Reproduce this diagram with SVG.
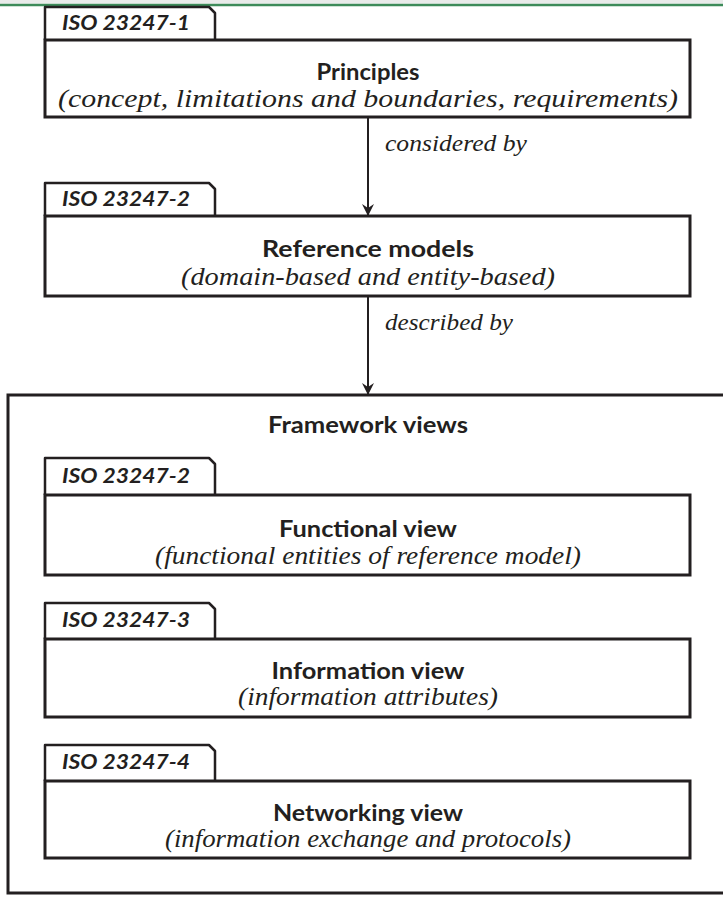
<svg xmlns="http://www.w3.org/2000/svg" width="723" height="899" viewBox="0 0 723 899">
<style>
.box{fill:#fff;stroke:#231f20;stroke-width:3}
.tab{fill:#fff;stroke:#231f20;stroke-width:2.5;stroke-linejoin:round}
.title{font-family:Lato,"Open Sans",sans-serif;font-weight:bold;font-size:23.5px;fill:#231f20;text-anchor:middle}
.sub{font-family:"Liberation Serif",serif;font-style:italic;font-size:25px;fill:#231f20;text-anchor:middle}
.tabt{font-family:Lato,"Open Sans",sans-serif;font-weight:bold;font-style:italic;font-size:21px;fill:#231f20}
.lbl{font-family:"Liberation Serif",serif;font-style:italic;font-size:24px;fill:#231f20}
.conn{stroke:#231f20;stroke-width:2;fill:none}
</style>
<defs>
<marker id="arr" viewBox="0 0 12 12" refX="11" refY="6" markerWidth="12" markerHeight="12" markerUnits="userSpaceOnUse" orient="auto">
<path d="M0,0 L12,6 L0,12 L4,6 z" fill="#231f20"/>
</marker>
</defs>
<rect x="0" y="0" width="723" height="3.5" fill="#e9ebea"/>
<line x1="0" y1="5" x2="723" y2="5" stroke="#3d8b5a" stroke-width="2.5"/>

<g id="framework">
<rect class="box" x="8" y="395" width="730" height="498"/>
<text class="title" x="368" y="433" textLength="200" lengthAdjust="spacingAndGlyphs">Framework views</text>
</g>

<g id="principles">
<path class="tab" d="M45,40 V7 H209 L215,13 V40"/>
<text class="tabt" x="62" y="30" textLength="128" lengthAdjust="spacingAndGlyphs">ISO 23247-1</text>
<rect class="box" x="45" y="40" width="645" height="77"/>
<text class="title" x="368" y="80" textLength="103" lengthAdjust="spacingAndGlyphs">Principles</text>
<text class="sub" x="368" y="107" textLength="620" lengthAdjust="spacingAndGlyphs">(concept, limitations and boundaries, requirements)</text>
</g>

<g id="reference">
<path class="tab" d="M45,216 V183 H209 L215,189 V216"/>
<text class="tabt" x="62" y="206" textLength="128" lengthAdjust="spacingAndGlyphs">ISO 23247-2</text>
<rect class="box" x="45" y="216" width="645" height="80"/>
<text class="title" x="368" y="257" textLength="212" lengthAdjust="spacingAndGlyphs">Reference models</text>
<text class="sub" x="368" y="285" textLength="374" lengthAdjust="spacingAndGlyphs">(domain-based and entity-based)</text>
</g>

<g id="functional">
<path class="tab" d="M45,495 V458 H209 L215,464 V495"/>
<text class="tabt" x="62" y="483" textLength="128" lengthAdjust="spacingAndGlyphs">ISO 23247-2</text>
<rect class="box" x="45" y="495" width="645" height="80"/>
<text class="title" x="368" y="537" textLength="178" lengthAdjust="spacingAndGlyphs">Functional view</text>
<text class="sub" x="368" y="564" textLength="426" lengthAdjust="spacingAndGlyphs">(functional entities of reference model)</text>
</g>

<g id="information">
<path class="tab" d="M45,639 V603 H209 L215,609 V639"/>
<text class="tabt" x="62" y="627" textLength="128" lengthAdjust="spacingAndGlyphs">ISO 23247-3</text>
<rect class="box" x="45" y="639" width="645" height="78"/>
<text class="title" x="368" y="679" textLength="193" lengthAdjust="spacingAndGlyphs">Information view</text>
<text class="sub" x="368" y="705" textLength="260" lengthAdjust="spacingAndGlyphs">(information attributes)</text>
</g>

<g id="networking">
<path class="tab" d="M45,781 V745 H209 L215,751 V781"/>
<text class="tabt" x="62" y="769" textLength="128" lengthAdjust="spacingAndGlyphs">ISO 23247-4</text>
<rect class="box" x="45" y="781" width="645" height="77"/>
<text class="title" x="368" y="821" textLength="190" lengthAdjust="spacingAndGlyphs">Networking view</text>
<text class="sub" x="368" y="847" textLength="406" lengthAdjust="spacingAndGlyphs">(information exchange and protocols)</text>
</g>

<g id="connectors">
<line class="conn" x1="368" y1="118" x2="368" y2="215" marker-end="url(#arr)"/>
<text class="lbl" x="385" y="151" textLength="142" lengthAdjust="spacingAndGlyphs">considered by</text>
<line class="conn" x1="368" y1="297" x2="368" y2="394" marker-end="url(#arr)"/>
<text class="lbl" x="385" y="330" textLength="128" lengthAdjust="spacingAndGlyphs">described by</text>
</g>
</svg>
